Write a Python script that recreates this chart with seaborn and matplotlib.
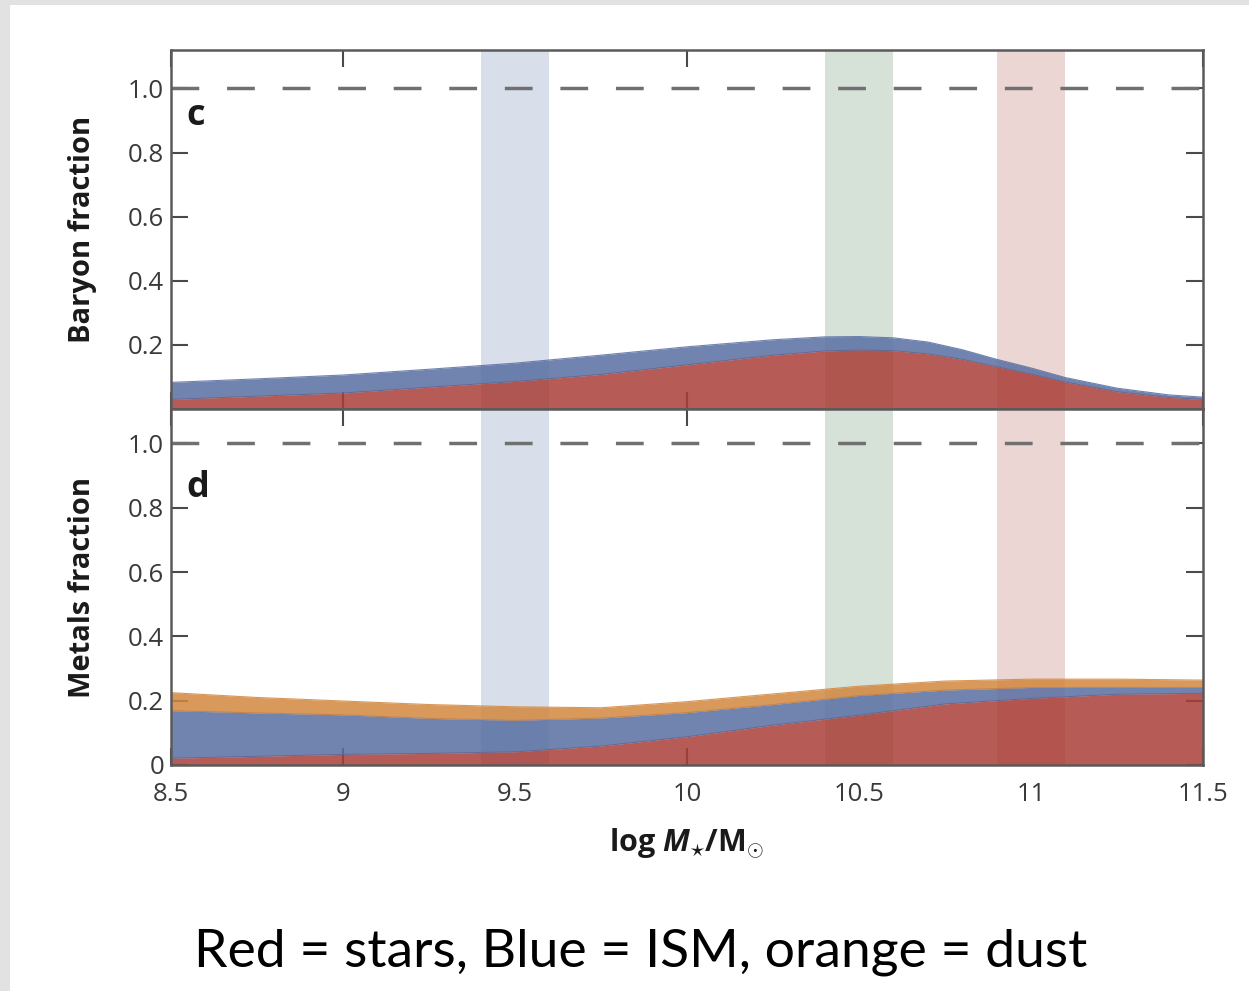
import numpy as np
import pandas as pd
import matplotlib
matplotlib.use("Agg")
import matplotlib.pyplot as plt
from matplotlib.patches import Rectangle
import seaborn as sns

# ---------------- data ----------------
# panel c (baryon fraction)
mass_c = [8.5, 8.75, 9.0, 9.25, 9.5, 9.75, 10.0, 10.25, 10.4, 10.5, 10.6, 10.7, 10.8, 10.9, 11.0, 11.1, 11.25, 11.4, 11.5]
stars_c = [0.030, 0.040, 0.050, 0.068, 0.086, 0.108, 0.138, 0.168, 0.181, 0.184, 0.182, 0.172, 0.155, 0.132, 0.109, 0.084, 0.054, 0.036, 0.030]
ism_c = [0.053, 0.054, 0.056, 0.056, 0.057, 0.060, 0.056, 0.048, 0.044, 0.042, 0.040, 0.037, 0.030, 0.023, 0.019, 0.014, 0.011, 0.008, 0.007]

# panel d (metals fraction)
mass_d = [8.5, 8.75, 9.0, 9.25, 9.5, 9.75, 10.0, 10.25, 10.5, 10.75, 11.0, 11.25, 11.5]
stars_d = [0.021, 0.027, 0.033, 0.036, 0.041, 0.059, 0.088, 0.124, 0.155, 0.190, 0.207, 0.220, 0.223]
ism_d = [0.148, 0.135, 0.123, 0.109, 0.098, 0.087, 0.075, 0.064, 0.061, 0.043, 0.034, 0.021, 0.018]
dust_d = [0.056, 0.048, 0.043, 0.043, 0.042, 0.032, 0.034, 0.033, 0.029, 0.028, 0.026, 0.026, 0.023]

# highlighted mass ranges
band_lo = [9.4, 10.4, 10.9]
band_hi = [9.6, 10.6, 11.1]
band_colors = ["#D8DEEA", "#D6E1D8", "#ECD6D4"]

xticks = [8.5, 9, 9.5, 10, 10.5, 11, 11.5]
xtick_labels = ["8.5", "9", "9.5", "10", "10.5", "11", "11.5"]
yticks_c = [0.2, 0.4, 0.6, 0.8, 1.0]
ytick_labels_c = ["0.2", "0.4", "0.6", "0.8", "1.0"]
yticks_d = [0, 0.2, 0.4, 0.6, 0.8, 1.0]
ytick_labels_d = ["0", "0.2", "0.4", "0.6", "0.8", "1.0"]

C_STARS = "#A93E37"
C_ISM = "#586FA2"
C_DUST = "#D2873D"

# ---------------- style ----------------
sns.set_theme(style="ticks")
plt.rcParams["font.family"] = ["Open Sans", "DejaVu Sans"]
plt.rcParams["mathtext.fontset"] = "custom"
plt.rcParams["mathtext.rm"] = "Open Sans:bold"
plt.rcParams["mathtext.bf"] = "Open Sans:bold"
plt.rcParams["mathtext.it"] = "Open Sans:italic:bold"

fig = plt.figure(figsize=(12.49, 9.91), dpi=100)
fig.patch.set_facecolor("#e2e2e2")
fig.add_artist(Rectangle((10 / 1249, 0), 1, 1 - 5 / 991, transform=fig.transFigure,
                         facecolor="white", edgecolor="none", zorder=-10))

ax1 = fig.add_axes([171 / 1249, 1 - 409 / 991, 1032 / 1249, 359 / 991])
ax2 = fig.add_axes([171 / 1249, 1 - 765 / 991, 1032 / 1249, 356 / 991])


def draw_panel(ax, mass, layers, colors, ylim):
    for lo, hi, bc in zip(band_lo, band_hi, band_colors):
        ax.axvspan(lo, hi, color=bc, lw=0, zorder=1)
    base = np.zeros(len(mass))
    for vals, col in zip(layers, colors):
        top = base + np.asarray(vals)
        ax.fill_between(mass, base, top, color=col, alpha=0.85, lw=0, zorder=2)
        sns.lineplot(x=mass, y=top, ax=ax, color=col, alpha=0.85, lw=0.8,
                     legend=False, zorder=2)
        base = top
    ax.axhline(1.0, color="#707070", lw=2.5, dashes=(8, 8), zorder=5)
    ax.set_xlim(8.5, 11.5)
    ax.set_ylim(*ylim)
    ax.set_xticks(xticks)
    for sp in ax.spines.values():
        sp.set_color("#5a5a5a")
        sp.set_linewidth(1.8)
        sp.set_zorder(6)
    ax.tick_params(direction="in", length=12, width=1.5, top=True, right=True,
                   color="#4a4a4a", labelcolor="#3a3a3a", labelsize=18.5)
    ax.tick_params(axis="x", pad=12)
    ax.tick_params(axis="y", pad=5)
    ax.set_xlabel("")
    ax.set_ylabel("")


draw_panel(ax1, mass_c, [stars_c, ism_c], [C_STARS, C_ISM], (0, 1.12))
draw_panel(ax2, mass_d, [stars_d, ism_d, dust_d], [C_STARS, C_ISM, C_DUST], (0, 1.107))

ax1.set_yticks(yticks_c)
ax1.set_yticklabels(ytick_labels_c)
ax1.set_xticklabels([])
ax2.set_yticks(yticks_d)
ax2.set_yticklabels(ytick_labels_d)
ax2.set_xticklabels(xtick_labels)

ax1.set_ylabel("Baryon fraction", fontsize=21, fontweight="bold", color="#1a1a1a")
ax2.set_ylabel("Metals fraction", fontsize=21, fontweight="bold", color="#1a1a1a")
ax1.yaxis.set_label_coords(-0.072, 0.5)
ax2.yaxis.set_label_coords(-0.072, 0.5)

ax1.text(8.545, 0.885, "c", fontsize=26, fontweight="bold", color="#1a1a1a",
         va="baseline", ha="left", zorder=7)
ax2.text(8.545, 0.834, "d", fontsize=26, fontweight="bold", color="#1a1a1a",
         va="baseline", ha="left", zorder=7)

ax2.set_xlabel(r"log $M_{\star}$/M$_{\odot}$", fontsize=22, fontweight="bold",
               color="#1a1a1a", labelpad=14)

fig.text(0.513, 0.039, "Red = stars, Blue = ISM, orange = dust", fontsize=38.5,
         color="black", ha="center", va="center", family=["Lato", "DejaVu Sans"])

fig.savefig("out.png", dpi=100, facecolor=fig.get_facecolor())
